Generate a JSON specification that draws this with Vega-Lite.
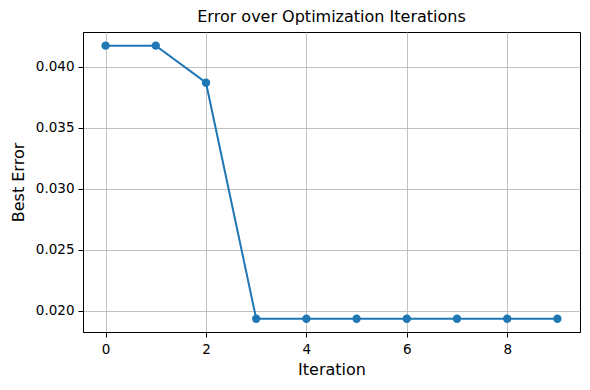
{
  "$schema": "https://vega.github.io/schema/vega-lite/v6.json",
  "autosize": "none",
  "width": 497,
  "height": 300,
  "padding": {"left": 83, "top": 32, "right": 10, "bottom": 57},
  "background": "white",
  "config": {
    "font": "DejaVu Sans",
    "view": {"stroke": "black", "strokeWidth": 1},
    "axis": {
      "grid": true,
      "gridColor": "#b0b0b0",
      "gridWidth": 0.8,
      "domainColor": "black",
      "domainWidth": 1,
      "tickColor": "black",
      "tickSize": 5,
      "tickWidth": 1,
      "labelFont": "DejaVu Sans",
      "labelFontSize": 13.5,
      "labelColor": "black",
      "titleFont": "DejaVu Sans",
      "titleFontSize": 16,
      "titleFontWeight": "normal",
      "titleColor": "black"
    }
  },
  "title": {
    "text": "Error over Optimization Iterations",
    "font": "DejaVu Sans",
    "fontSize": 16,
    "fontWeight": "normal",
    "color": "black",
    "offset": 7
  },
  "data": {
    "values": [
      {"iteration": 0, "error": 0.04175},
      {"iteration": 1, "error": 0.04175},
      {"iteration": 2, "error": 0.03871},
      {"iteration": 3, "error": 0.01934},
      {"iteration": 4, "error": 0.01934},
      {"iteration": 5, "error": 0.01934},
      {"iteration": 6, "error": 0.01934},
      {"iteration": 7, "error": 0.01934},
      {"iteration": 8, "error": 0.01934},
      {"iteration": 9, "error": 0.01934}
    ]
  },
  "mark": {
    "type": "line",
    "color": "#1f77b4",
    "strokeWidth": 2,
    "point": {"filled": true, "size": 70, "color": "#1f77b4", "opacity": 1}
  },
  "encoding": {
    "x": {
      "field": "iteration",
      "type": "quantitative",
      "scale": {"domain": [-0.45, 9.45], "nice": false, "zero": false},
      "axis": {"values": [0, 2, 4, 6, 8], "title": "Iteration", "labelPadding": 5, "titlePadding": 6, "format": "d"}
    },
    "y": {
      "field": "error",
      "type": "quantitative",
      "scale": {"domain": [0.01825, 0.04287], "nice": false, "zero": false},
      "axis": {"values": [0.02, 0.025, 0.03, 0.035, 0.04], "format": ".3f", "title": "Best Error", "labelPadding": 4, "titlePadding": 9}
    }
  }
}
